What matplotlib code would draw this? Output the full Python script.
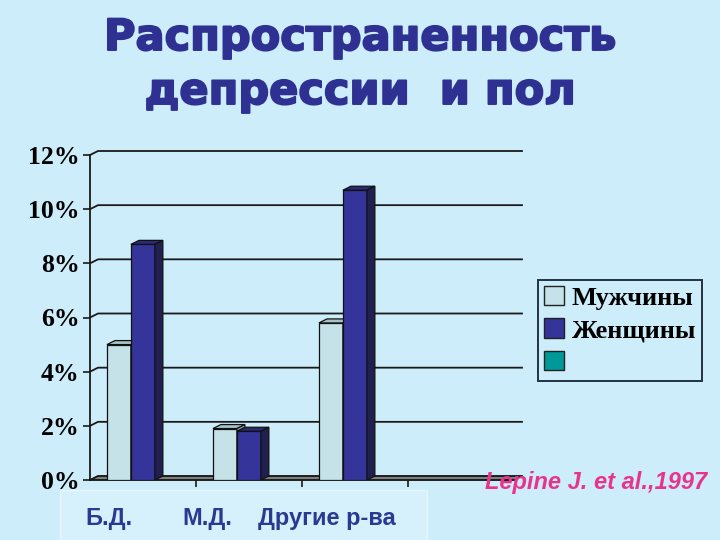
import matplotlib
matplotlib.use("Agg")
import matplotlib.pyplot as plt
import matplotlib.patheffects as pe
from matplotlib.patches import Polygon, Patch, Rectangle
from matplotlib.lines import Line2D

# ---- data ----
categories = ["Б.Д.", "М.Д.", "Другие р-ва"]
men = [5.0, 1.9, 5.8]
women = [8.7, 1.8, 10.7]
series_labels = ["Мужчины", "Женщины", ""]
yticks = [0, 2, 4, 6, 8, 10, 12]
ytick_labels = ["0%", "2%", "4%", "6%", "8%", "10%", "12%"]
title_lines = ["Распространенность", "депрессии  и пол"]
citation = "Lepine J. et al.,1997"

BG = "#cdedfb"
MEN_F, MEN_T, MEN_S = "#c4e2e8", "#a6c2c6", "#8fa9ae"
WOM_F, WOM_T, WOM_S = "#34349a", "#2a2a72", "#202050"
TEAL = "#009999"
TITLE_C = "#2e3192"

fig = plt.figure(figsize=(7.2, 5.4), dpi=100, facecolor=BG)
W, H = 720, 540
ax = fig.add_axes([90 / W, 60 / H, 424 / W, 325 / H])
ax.set_facecolor("none")
nslots = len(categories) + 1
ax.set_xlim(-0.5, nslots - 0.5)
ax.set_ylim(0, 12)
for s in ax.spines.values():
    s.set_visible(False)

# depth offsets in data units (8 px right, 4 px up)
ax_w_px = 424
ax_h_px = 325
dx = 8 * (nslots) / ax_w_px
dy = 4 * 12 / ax_h_px

x0, x1 = -0.5, nslots - 0.5
# floor
ax.add_patch(Polygon([(x0, 0), (x1, 0), (x1 + dx, dy), (x0 + dx, dy)],
                     closed=True, facecolor="#7f7f7f", edgecolor="#333333",
                     lw=0.8, clip_on=False, zorder=1))
# gridlines on back wall with diagonal joints
for t in yticks:
    yy = t + dy
    ax.add_line(Line2D([x0, x0 + dx, x1 + dx], [t, yy, yy], color="#1a1a1a",
                       lw=1.3, clip_on=False, zorder=0.5 if t > 0 else 1.2))

# front axis lines
ax.add_line(Line2D([x0, x0], [0, 12], color="#1a1a1a", lw=1.3, clip_on=False, zorder=3))
ax.add_line(Line2D([x0, x1], [0, 0], color="#1a1a1a", lw=1.3, clip_on=False, zorder=3))

bw = 0.226
off = -0.34
xs = list(range(len(categories)))
men_x = [x + off for x in xs]
wom_x = [x + off + bw for x in xs]

def bar3d(lefts, vals, cf, ct, cs):
    bars = ax.bar(lefts, vals, width=bw, align="edge", color=cf,
                  edgecolor="#111111", lw=0.9, zorder=4)
    for b in bars:
        x = b.get_x(); w = b.get_width(); v = b.get_height()
        ax.add_patch(Polygon([(x, v), (x + w, v), (x + w + dx, v + dy), (x + dx, v + dy)],
                             closed=True, facecolor=ct, edgecolor="#111111", lw=0.9, zorder=4))
        ax.add_patch(Polygon([(x + w, 0), (x + w, v), (x + w + dx, v + dy), (x + w + dx, dy)],
                             closed=True, facecolor=cs, edgecolor="#111111", lw=0.9, zorder=4))

bar3d(men_x, men, MEN_F, MEN_T, MEN_S)
bar3d(wom_x, women, WOM_F, WOM_T, WOM_S)

ax.set_yticks(yticks)
ax.set_yticklabels(ytick_labels, fontfamily="Liberation Serif", fontweight="bold",
                   fontsize=18.5, color="black")
ax.tick_params(axis="y", direction="out", length=5, width=1.2, color="#1a1a1a", pad=2.5)
ax.set_xticks([i + 0.5 for i in range(len(categories))])
ax.set_xticklabels([])
ax.tick_params(axis="x", direction="out", length=5, width=1.2, color="#1a1a1a")

# category label box
fig.patches.append(Rectangle((60 / W, 0), 367 / W, 50 / H, transform=fig.transFigure,
                             facecolor="#d6f1fb", edgecolor="#e4f6fc", lw=1.0, zorder=0))
label_px = [109, 207, 327]
for lab, px in zip(categories, label_px):
    fig.text(px / W, 1 - 518 / H, lab, ha="center", va="center", fontsize=17,
             fontfamily="Liberation Sans", fontweight="bold", color="#2b3990")

# title
thick = [pe.withStroke(linewidth=1.4, foreground=TITLE_C)]
fig.text(0.5, 1 - 38 / H, title_lines[0], ha="center", va="center", fontsize=31,
         fontfamily="DejaVu Sans", fontweight="heavy", color=TITLE_C, path_effects=thick)
fig.text(0.5, 1 - 92 / H, title_lines[1], ha="center", va="center", fontsize=31,
         fontfamily="DejaVu Sans", fontweight="heavy", color=TITLE_C, path_effects=thick)

# citation
fig.text(707 / W, 1 - 482 / H, citation, ha="right", va="center", fontsize=17,
         fontfamily="Liberation Sans", fontstyle="italic", fontweight="bold", color="#e8358c")

# legend
handles = [Patch(facecolor=MEN_F, edgecolor="#222222"),
           Patch(facecolor=WOM_F, edgecolor="#222222"),
           Patch(facecolor=TEAL, edgecolor="#222222")]
leg_labels = [lab if lab else " " for lab in series_labels]
leg = fig.legend(handles, leg_labels, loc="upper left",
                 bbox_to_anchor=(538 / W, 1 - 280 / H), frameon=True, fancybox=False,
                 facecolor=BG, edgecolor="#223344", framealpha=1,
                 prop={"family": "Liberation Serif", "weight": "bold", "size": 19},
                 handlelength=0.75, handleheight=0.75, handletextpad=0.3,
                 labelspacing=0.33, borderpad=0.22, borderaxespad=0)
leg.get_frame().set_linewidth(1.4)

fig.savefig("out.png", dpi=100, facecolor=BG)
